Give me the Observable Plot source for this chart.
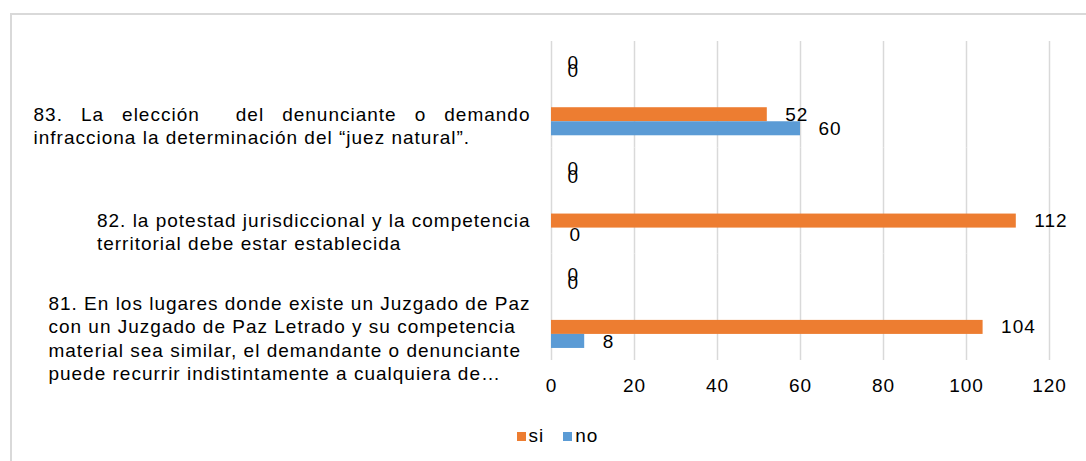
<!DOCTYPE html>
<html><head><meta charset="utf-8">
<script src="https://cdn.jsdelivr.net/npm/d3@7"></script>
<script src="https://cdn.jsdelivr.net/npm/@observablehq/plot@0.6"></script>
<style>
html,body{margin:0;padding:0;background:#fff;overflow:hidden;width:1086px;height:461px;}
#frame{position:absolute;left:10px;top:13px;width:1200px;height:600px;border-left:2px solid #d9d9d9;border-top:2px solid #d9d9d9;}
#chart svg{display:block;}
#legend{width:1074px;box-sizing:border-box;padding-left:36px;margin-top:20px;}
#legend .lg-swatches{font-family:"Liberation Sans",Arial,sans-serif;font-size:19px;letter-spacing:1px;color:#000;justify-content:center;margin:0;min-height:0;}
#legend .lg-swatch > svg{margin-right:3px;}
</style></head><body>
<div id="frame"><div id="chart"></div><div id="legend"></div></div>
<script>
// ---- data ----
const categories = ["83", "82", "81"];
const categoryLabels = [
  "83. La elección  del denunciante o demando\ninfracciona la determinación del “juez natural”.",
  "82. la potestad jurisdiccional y la competencia\nterritorial debe estar establecida",
  "81. En los lugares donde existe un Juzgado de Paz\ncon un Juzgado de Paz Letrado y su competencia\nmaterial sea similar, el demandante o denunciante\npuede recurrir indistintamente a cualquiera de…"
];
const seriesKeys = ["serie1", "serie2", "si", "no"];
const serie1 = [0, 0, 0];
const serie2 = [0, 0, 0];
const si = [52, 112, 104];
const no = [60, 0, 8];
const xTicks = [0, 20, 40, 60, 80, 100, 120];
const legendKeys = ["si", "no"];

// ---- styles ----
const ORANGE = "#ED7D31", BLUE = "#5B9BD5";
const FONT = "'Liberation Sans', Arial, sans-serif";
const labelBoxWidth = 497;

const values = {serie1, serie2, si, no};
const rows = [];
categories.forEach((c, i) => seriesKeys.forEach(s => rows.push({cat: c, series: s, value: values[s][i]})));
const labelRows = categories.map((c, i) => ({cat: c, label: categoryLabels[i]}));

const chart = Plot.plot({
  width: 1074, height: 390,
  marginLeft: 539, marginRight: 37, marginTop: 26, marginBottom: 45,
  style: {fontFamily: FONT, fontSize: "19px", letterSpacing: "1px", color: "#000", background: "transparent", overflow: "visible"},
  x: {domain: [0, 120], ticks: xTicks, tickSize: 0, tickPadding: 18, label: null},
  y: {domain: seriesKeys, paddingInner: 0, paddingOuter: 1.79, align: 0.76, axis: null, round: false},
  fy: {domain: categories, padding: 0, axis: null, round: false},
  color: {domain: seriesKeys, range: ["#A5A5A5", "#FFC000", ORANGE, BLUE]},
  marks: [
    Plot.gridX(xTicks, {stroke: "#d9d9d9", strokeOpacity: 1, strokeWidth: 1.5}),
    Plot.barX(rows, {x: "value", y: "series", fy: "cat", fill: "series"}),
    Plot.text(rows.filter(d => d.series === "si" || d.series === "no"),
      {x: "value", y: "series", fy: "cat", text: d => String(d.value), textAnchor: "start", dx: 18}),
    Plot.text(rows.filter(d => d.series === "serie1"),
      {x: "value", y: "series", fy: "cat", text: d => String(d.value), textAnchor: "start", dx: 16, dy: -24}),
    Plot.text(rows.filter(d => d.series === "serie2"),
      {x: "value", y: "series", fy: "cat", text: d => String(d.value), textAnchor: "start", dx: 16, dy: -30}),
    Plot.text(labelRows, {fy: "cat", y: d => "si", frameAnchor: "left", textAnchor: "end",
      dx: -21, dy: 10, text: "label", lineHeight: 1.23})
  ]
});
document.getElementById("chart").append(chart);

// left-aligned text blocks, right edge at the label column edge; first block's first line justified
const firstLines = new Set(categoryLabels.map(s => s.split("\n")[0]));
Array.from(chart.querySelectorAll("text")).forEach(t => {
  const lines = Array.from(t.querySelectorAll("tspan"));
  if (!lines.length) return;
  const first = lines[0];
  const firstText = first.textContent;
  if (!firstLines.has(firstText)) return;
  let W = 0;
  if (firstText.startsWith("83.")) {
    const len = first.getComputedTextLength();
    const spaces = (firstText.match(/ /g) || []).length;
    first.setAttribute("word-spacing", ((labelBoxWidth - len) / spaces) + "px");
    W = labelBoxWidth;
  } else {
    lines.forEach(l => { W = Math.max(W, l.getComputedTextLength()); });
  }
  t.setAttribute("text-anchor", "start");
  lines.forEach(l => l.setAttribute("x", -W));
});

const legend = Plot.legend({
  color: {type: "categorical", domain: legendKeys, range: [ORANGE, BLUE]},
  swatchSize: 9,
  className: "lg"
});
document.getElementById("legend").append(legend);
</script>
</body></html>
